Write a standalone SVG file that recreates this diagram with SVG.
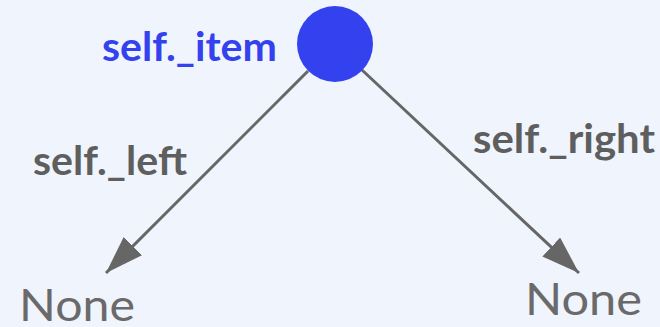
<svg xmlns="http://www.w3.org/2000/svg" width="660" height="327" viewBox="0 0 660 327">
<style>
.lbl{font-family:Lato,"Noto Sans","Liberation Sans",sans-serif;font-weight:bold;font-size:40px;fill:#5e5e5e}
.item{fill:#3342ee}
.none{font-family:Lato,"Noto Sans","Liberation Sans",sans-serif;font-weight:normal;font-size:45px;fill:#6a6a6a}
.edge{stroke:#666;stroke-width:3;fill:none}
</style>
<defs>
<marker id="arr" markerUnits="userSpaceOnUse" markerWidth="40" markerHeight="30" refX="38" refY="13" orient="auto">
<path d="M0,0 L38,13 L0,26 Z" fill="#666"/>
</marker>
</defs>
<rect width="660" height="327" fill="#f0f4fd"/>
<g id="connectors">
<line class="edge" x1="308" y1="71" x2="106" y2="273" marker-end="url(#arr)"/>
<line class="edge" x1="362" y1="70" x2="579" y2="273" marker-end="url(#arr)"/>
</g>
<g id="root">
<circle cx="335" cy="44" r="38" fill="#3342ee"/>
<text class="lbl item" x="102" y="61" textLength="175" lengthAdjust="spacingAndGlyphs">self._item</text>
</g>
<g id="label-left">
<text class="lbl" x="33" y="175" textLength="154" lengthAdjust="spacingAndGlyphs">self._left</text>
</g>
<g id="label-right">
<text class="lbl" x="473" y="153" textLength="182" lengthAdjust="spacingAndGlyphs">self._right</text>
</g>
<g id="none-left">
<text class="none" x="19" y="321" textLength="116" lengthAdjust="spacingAndGlyphs">None</text>
</g>
<g id="none-right">
<text class="none" x="525" y="315" textLength="117" lengthAdjust="spacingAndGlyphs">None</text>
</g>
</svg>
